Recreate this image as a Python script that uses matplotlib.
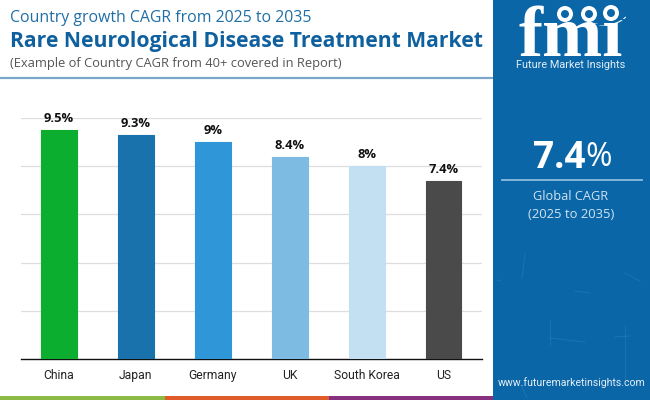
import matplotlib
matplotlib.use('Agg')
import matplotlib.pyplot as plt
from matplotlib.patches import Rectangle, Circle, Arc

# Chart data
countries = ['China', 'Japan', 'Germany', 'UK', 'South Korea', 'US']
cagr = [9.5, 9.3, 9.0, 8.4, 8.0, 7.4]
cagr_labels = ['9.5%', '9.3%', '9%', '8.4%', '8%', '7.4%']
bar_colors = ['#0CAE30', '#1A72AD', '#2F96D8', '#7DBBE3', '#C3E0F2', '#4A4A4A']
grid_ticks = [2, 4, 6, 8, 10]

W, H = 650, 400
PANEL = '#0B66A8'

fig = plt.figure(figsize=(W/100, H/100), dpi=100, facecolor='white')

# overlay in pixel coordinates for the header, side panel and strips
bg = fig.add_axes([0, 0, 1, 1])
bg.set_xlim(0, W)
bg.set_ylim(H, 0)
bg.axis('off')

# Bars
ax = fig.add_axes([21/W, (H-359)/H, (482-21)/W, 241/H])
x = list(range(len(countries)))
ax.bar(x, cagr, width=0.465, color=bar_colors, edgecolor=bar_colors,
       linewidth=0.8, joinstyle='round', zorder=3)
ax.set_xlim(-0.494, 5.5)
ax.set_ylim(0, 10)
ax.set_yticks(grid_ticks)
ax.tick_params(axis='y', left=False, labelleft=False)
ax.tick_params(axis='x', bottom=False, pad=4)
ax.set_xticks(x)
ax.set_xticklabels(countries, fontsize=8.7, family='Roboto', color='#222222')
ax.grid(axis='y', color='#DEDEDE', linewidth=0.9, zorder=0)
for s in ['top', 'left', 'right']:
    ax.spines[s].set_visible(False)
ax.spines['bottom'].set_color('#111111')
ax.spines['bottom'].set_linewidth(1.0)
ax.patch.set_alpha(0)
for xi, v, lab in zip(x, cagr, cagr_labels):
    ax.annotate(lab, (xi, v), xytext=(0, 3.5), textcoords='offset points',
                ha='center', va='bottom', fontsize=9.3, fontweight='bold',
                family='Open Sans', color='#111111', zorder=5)

# Header
bg.text(10, 18, 'Country growth CAGR from 2025 to 2035', fontsize=11.4,
        family='Open Sans', color='#1F6FA6', va='center')
bg.text(10, 41, 'Rare Neurological Disease Treatment Market', fontsize=15.2,
        family='Open Sans', fontweight='bold', color='#0E609E', va='center')
bg.text(10, 63, '(Example of Country CAGR from 40+ covered in Report)', fontsize=9.25,
        family='Open Sans', color='#555555', va='center')
bg.plot([0, 493], [78, 78], color='#7BA6CA', linewidth=1.6, solid_capstyle='butt')

# Bottom strips
bg.add_patch(Rectangle((0, 396), 165, 4, color='#8CBB45', lw=0))
bg.add_patch(Rectangle((165, 396), 164, 4, color='#E05C2B', lw=0))
bg.add_patch(Rectangle((329, 396), 164, 4, color='#86307F', lw=0))

# Side panel
bg.add_patch(Rectangle((493, 0), 157, 400, color=PANEL, lw=0))

# faint scratches in the lower part of the panel
scratches = [((525, 522), (254, 278)), ((625, 640), (273, 281)), ((625, 625), (325, 380)),
             ((550, 550), (320, 345)), ((550, 585), (338, 342)), ((497, 501), (280, 281)),
             ((521, 527), (385, 398)), ((575, 590), (291, 293)), ((615, 630), (337, 336))]
for sx, sy in scratches:
    bg.plot(sx, sy, color='#3A86BE', linewidth=0.6, alpha=0.45)

# Logo
bg.text(571, 56, 'fmi', fontsize=52, family='Liberation Serif', fontweight='bold',
        color='white', ha='center', va='baseline')
for yy in range(14, 58, 5):
    bg.plot([515, 630], [yy, yy], color=PANEL, linewidth=0.8)
for cx, cy in [(565, 14), (589, 14), (611, 13)]:
    bg.add_patch(Circle((cx, cy), 8, color='white', lw=0, zorder=4))
    bg.add_patch(Circle((cx, cy), 4, color=PANEL, lw=0, zorder=5))
bg.add_patch(Arc((604, 9), 50, 32, theta1=20, theta2=160, color='white', linewidth=0.8))
bg.text(571, 65, 'Future Market Insights', fontsize=7.8, family='Roboto',
        color='#E3EEF7', ha='center', va='center')

# Global CAGR callout, the number is bold and the percent sign regular
bg.text(585, 158, '7.4', fontsize=26.5, family='Open Sans', fontweight='bold',
        color='white', ha='right', va='center')
bg.text(585, 158, '%', fontsize=23, family='Open Sans',
        color='white', ha='left', va='center')
bg.plot([502, 642], [180, 180], color='#8FBDDD', linewidth=1.3)
bg.text(571, 197, 'Global CAGR', fontsize=9.2, family='Open Sans',
        color='#CFE3F2', ha='center', va='center')
bg.text(571, 214, '(2025 to 2035)', fontsize=9.4, family='Open Sans',
        color='#CFE3F2', ha='center', va='center')
bg.text(572, 383, 'www.futuremarketinsights.com', fontsize=7.6, family='Roboto',
        color='#E3EEF7', ha='center', va='center')

fig.savefig('out.png', dpi=100)
